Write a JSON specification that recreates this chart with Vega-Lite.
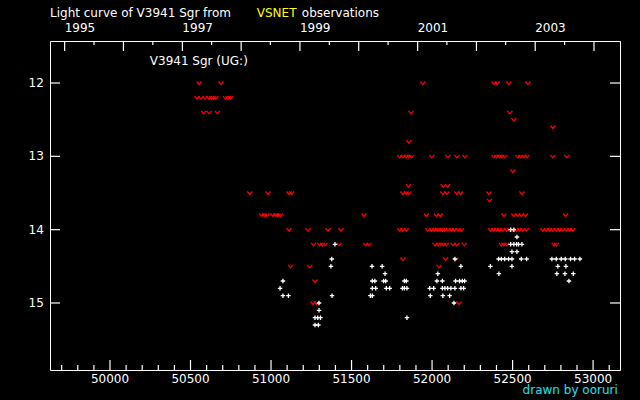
{
  "$schema": "https://vega.github.io/schema/vega-lite/v6.json",
  "description": "Light curve of V3941 Sgr from VSNET observations (JD-2400000 vs magnitude).",
  "width": 570,
  "height": 329,
  "autosize": "none",
  "padding": {"left": 50, "top": 41, "right": 20, "bottom": 30},
  "background": "black",
  "datasets": {
    "limits": [
      {"jd": 50553, "mag": 12.0}, {"jd": 50690, "mag": 12.0}, {"jd": 51943, "mag": 12.0}, {"jd": 52385, "mag": 12.0}, {"jd": 52404, "mag": 12.0}, {"jd": 52477, "mag": 12.0}, {"jd": 52595, "mag": 12.0},
      {"jd": 50541, "mag": 12.2}, {"jd": 50565, "mag": 12.2}, {"jd": 50590, "mag": 12.2}, {"jd": 50615, "mag": 12.2}, {"jd": 50630, "mag": 12.2}, {"jd": 50644, "mag": 12.2}, {"jd": 50657, "mag": 12.2}, {"jd": 50717, "mag": 12.2}, {"jd": 50733, "mag": 12.2}, {"jd": 50750, "mag": 12.2},
      {"jd": 50582, "mag": 12.4}, {"jd": 50615, "mag": 12.4}, {"jd": 50667, "mag": 12.4}, {"jd": 51869, "mag": 12.4}, {"jd": 52483, "mag": 12.4},
      {"jd": 52508, "mag": 12.5},
      {"jd": 52750, "mag": 12.6},
      {"jd": 51856, "mag": 12.8},
      {"jd": 51799, "mag": 13.0}, {"jd": 51819, "mag": 13.0}, {"jd": 51840, "mag": 13.0}, {"jd": 51856, "mag": 13.0}, {"jd": 51873, "mag": 13.0}, {"jd": 51999, "mag": 13.0}, {"jd": 52099, "mag": 13.0}, {"jd": 52154, "mag": 13.0}, {"jd": 52204, "mag": 13.0}, {"jd": 52385, "mag": 13.0}, {"jd": 52401, "mag": 13.0}, {"jd": 52419, "mag": 13.0}, {"jd": 52434, "mag": 13.0}, {"jd": 52451, "mag": 13.0}, {"jd": 52533, "mag": 13.0}, {"jd": 52550, "mag": 13.0}, {"jd": 52571, "mag": 13.0}, {"jd": 52589, "mag": 13.0}, {"jd": 52750, "mag": 13.0}, {"jd": 52837, "mag": 13.0},
      {"jd": 52502, "mag": 13.2},
      {"jd": 51853, "mag": 13.4}, {"jd": 52069, "mag": 13.4}, {"jd": 52097, "mag": 13.4},
      {"jd": 50868, "mag": 13.5}, {"jd": 50981, "mag": 13.5}, {"jd": 51112, "mag": 13.5}, {"jd": 51128, "mag": 13.5}, {"jd": 51819, "mag": 13.5}, {"jd": 51840, "mag": 13.5}, {"jd": 51856, "mag": 13.5}, {"jd": 52067, "mag": 13.5}, {"jd": 52092, "mag": 13.5}, {"jd": 52154, "mag": 13.5}, {"jd": 52176, "mag": 13.5}, {"jd": 52353, "mag": 13.5}, {"jd": 52558, "mag": 13.5},
      {"jd": 52357, "mag": 13.6},
      {"jd": 50942, "mag": 13.8}, {"jd": 50959, "mag": 13.8}, {"jd": 50975, "mag": 13.8}, {"jd": 51012, "mag": 13.8}, {"jd": 51029, "mag": 13.8}, {"jd": 51043, "mag": 13.8}, {"jd": 51058, "mag": 13.8}, {"jd": 51577, "mag": 13.8}, {"jd": 51964, "mag": 13.8}, {"jd": 52027, "mag": 13.8}, {"jd": 52051, "mag": 13.8}, {"jd": 52446, "mag": 13.8}, {"jd": 52508, "mag": 13.8}, {"jd": 52531, "mag": 13.8}, {"jd": 52554, "mag": 13.8}, {"jd": 52579, "mag": 13.8}, {"jd": 52829, "mag": 13.8},
      {"jd": 51112, "mag": 14.0}, {"jd": 51230, "mag": 14.0}, {"jd": 51354, "mag": 14.0}, {"jd": 51434, "mag": 14.0}, {"jd": 51799, "mag": 14.0}, {"jd": 51819, "mag": 14.0}, {"jd": 51840, "mag": 14.0}, {"jd": 51974, "mag": 14.0}, {"jd": 51996, "mag": 14.0}, {"jd": 52016, "mag": 14.0}, {"jd": 52033, "mag": 14.0}, {"jd": 52047, "mag": 14.0}, {"jd": 52064, "mag": 14.0}, {"jd": 52078, "mag": 14.0}, {"jd": 52099, "mag": 14.0}, {"jd": 52120, "mag": 14.0}, {"jd": 52140, "mag": 14.0}, {"jd": 52161, "mag": 14.0}, {"jd": 52182, "mag": 14.0}, {"jd": 52362, "mag": 14.0}, {"jd": 52382, "mag": 14.0}, {"jd": 52401, "mag": 14.0}, {"jd": 52419, "mag": 14.0}, {"jd": 52440, "mag": 14.0}, {"jd": 52461, "mag": 14.0}, {"jd": 52482, "mag": 14.0}, {"jd": 52502, "mag": 14.0}, {"jd": 52523, "mag": 14.0}, {"jd": 52544, "mag": 14.0}, {"jd": 52564, "mag": 14.0}, {"jd": 52585, "mag": 14.0}, {"jd": 52688, "mag": 14.0}, {"jd": 52709, "mag": 14.0}, {"jd": 52730, "mag": 14.0}, {"jd": 52750, "mag": 14.0}, {"jd": 52771, "mag": 14.0}, {"jd": 52792, "mag": 14.0}, {"jd": 52812, "mag": 14.0}, {"jd": 52833, "mag": 14.0}, {"jd": 52854, "mag": 14.0}, {"jd": 52874, "mag": 14.0},
      {"jd": 51265, "mag": 14.2}, {"jd": 51302, "mag": 14.2}, {"jd": 51319, "mag": 14.2}, {"jd": 51335, "mag": 14.2}, {"jd": 51422, "mag": 14.2}, {"jd": 51588, "mag": 14.2}, {"jd": 51608, "mag": 14.2}, {"jd": 52018, "mag": 14.2}, {"jd": 52039, "mag": 14.2}, {"jd": 52055, "mag": 14.2}, {"jd": 52072, "mag": 14.2}, {"jd": 52089, "mag": 14.2}, {"jd": 52130, "mag": 14.2}, {"jd": 52154, "mag": 14.2}, {"jd": 52200, "mag": 14.2}, {"jd": 52430, "mag": 14.2}, {"jd": 52446, "mag": 14.2}, {"jd": 52463, "mag": 14.2}, {"jd": 52758, "mag": 14.2}, {"jd": 52772, "mag": 14.2},
      {"jd": 51819, "mag": 14.4}, {"jd": 52084, "mag": 14.4}, {"jd": 52146, "mag": 14.4},
      {"jd": 51122, "mag": 14.5}, {"jd": 51241, "mag": 14.5}, {"jd": 52043, "mag": 14.5},
      {"jd": 51273, "mag": 14.7},
      {"jd": 51261, "mag": 15.0}, {"jd": 51282, "mag": 15.0}, {"jd": 52167, "mag": 15.0}
    ],
    "obs": [
      {"jd": 52488, "mag": 14.0}, {"jd": 52508, "mag": 14.0},
      {"jd": 52527, "mag": 14.1},
      {"jd": 51397, "mag": 14.2}, {"jd": 52488, "mag": 14.2}, {"jd": 52508, "mag": 14.2}, {"jd": 52525, "mag": 14.2}, {"jd": 52537, "mag": 14.2}, {"jd": 52558, "mag": 14.2},
      {"jd": 52496, "mag": 14.3}, {"jd": 52527, "mag": 14.3},
      {"jd": 51377, "mag": 14.4}, {"jd": 52142, "mag": 14.4}, {"jd": 52413, "mag": 14.4}, {"jd": 52430, "mag": 14.4}, {"jd": 52451, "mag": 14.4}, {"jd": 52475, "mag": 14.4}, {"jd": 52496, "mag": 14.4}, {"jd": 52554, "mag": 14.4}, {"jd": 52587, "mag": 14.4}, {"jd": 52744, "mag": 14.4}, {"jd": 52771, "mag": 14.4}, {"jd": 52802, "mag": 14.4}, {"jd": 52827, "mag": 14.4}, {"jd": 52860, "mag": 14.4}, {"jd": 52885, "mag": 14.4}, {"jd": 52918, "mag": 14.4},
      {"jd": 51372, "mag": 14.5}, {"jd": 51627, "mag": 14.5}, {"jd": 51690, "mag": 14.5}, {"jd": 52179, "mag": 14.5}, {"jd": 52362, "mag": 14.5}, {"jd": 52496, "mag": 14.5}, {"jd": 52781, "mag": 14.5}, {"jd": 52831, "mag": 14.5},
      {"jd": 51708, "mag": 14.6}, {"jd": 52036, "mag": 14.6}, {"jd": 52415, "mag": 14.6}, {"jd": 52775, "mag": 14.6}, {"jd": 52825, "mag": 14.6}, {"jd": 52877, "mag": 14.6},
      {"jd": 51074, "mag": 14.7}, {"jd": 51629, "mag": 14.7}, {"jd": 51645, "mag": 14.7}, {"jd": 51699, "mag": 14.7}, {"jd": 51712, "mag": 14.7}, {"jd": 51828, "mag": 14.7}, {"jd": 51840, "mag": 14.7}, {"jd": 52030, "mag": 14.7}, {"jd": 52064, "mag": 14.7}, {"jd": 52146, "mag": 14.7}, {"jd": 52171, "mag": 14.7}, {"jd": 52188, "mag": 14.7}, {"jd": 52202, "mag": 14.7}, {"jd": 52850, "mag": 14.7},
      {"jd": 51056, "mag": 14.8}, {"jd": 51629, "mag": 14.8}, {"jd": 51650, "mag": 14.8}, {"jd": 51716, "mag": 14.8}, {"jd": 51737, "mag": 14.8}, {"jd": 51816, "mag": 14.8}, {"jd": 51828, "mag": 14.8}, {"jd": 51844, "mag": 14.8}, {"jd": 51985, "mag": 14.8}, {"jd": 52010, "mag": 14.8}, {"jd": 52064, "mag": 14.8}, {"jd": 52080, "mag": 14.8}, {"jd": 52097, "mag": 14.8}, {"jd": 52117, "mag": 14.8}, {"jd": 52142, "mag": 14.8}, {"jd": 52179, "mag": 14.8}, {"jd": 52196, "mag": 14.8},
      {"jd": 51074, "mag": 14.9}, {"jd": 51108, "mag": 14.9}, {"jd": 51379, "mag": 14.9}, {"jd": 51617, "mag": 14.9}, {"jd": 51629, "mag": 14.9}, {"jd": 51989, "mag": 14.9}, {"jd": 52067, "mag": 14.9}, {"jd": 52109, "mag": 14.9},
      {"jd": 51298, "mag": 15.0}, {"jd": 52136, "mag": 15.0},
      {"jd": 51298, "mag": 15.1},
      {"jd": 51273, "mag": 15.2}, {"jd": 51290, "mag": 15.2}, {"jd": 51307, "mag": 15.2}, {"jd": 51844, "mag": 15.2},
      {"jd": 51273, "mag": 15.3}, {"jd": 51294, "mag": 15.3}
    ],
    "jdMajor": [
      {"jd": 50000}, {"jd": 50500}, {"jd": 51000}, {"jd": 51500}, {"jd": 52000}, {"jd": 52500}, {"jd": 53000}
    ],
    "jdMinor": [
      {"jd": 49700}, {"jd": 49800}, {"jd": 49900}, {"jd": 50100}, {"jd": 50200}, {"jd": 50300}, {"jd": 50400},
      {"jd": 50600}, {"jd": 50700}, {"jd": 50800}, {"jd": 50900}, {"jd": 51100}, {"jd": 51200}, {"jd": 51300}, {"jd": 51400},
      {"jd": 51600}, {"jd": 51700}, {"jd": 51800}, {"jd": 51900}, {"jd": 52100}, {"jd": 52200}, {"jd": 52300}, {"jd": 52400},
      {"jd": 52600}, {"jd": 52700}, {"jd": 52800}, {"jd": 52900}, {"jd": 53100}
    ],
    "yearMajor": [
      {"jd": 49718.5, "year": 1995}, {"jd": 50083.5, "year": 1996}, {"jd": 50449.5, "year": 1997}, {"jd": 50814.5, "year": 1998},
      {"jd": 51179.5, "year": 1999}, {"jd": 51544.5, "year": 2000}, {"jd": 51910.5, "year": 2001}, {"jd": 52275.5, "year": 2002},
      {"jd": 52640.5, "year": 2003}, {"jd": 53005.5, "year": 2004}
    ],
    "yearMinor": [
      {"jd": 49901}, {"jd": 50266}, {"jd": 50631}, {"jd": 50996}, {"jd": 51362}, {"jd": 51727}, {"jd": 52092}, {"jd": 52457}, {"jd": 52823}
    ],
    "magTicks": [
      {"mag": 12}, {"mag": 13}, {"mag": 14}, {"mag": 15}
    ],
    "header": [{"part": "Light curve of V3941 Sgr from"}],
    "source": [{"part": "VSNET"}],
    "tail": [{"part": "observations"}],
    "star": [{"part": "V3941 Sgr (UG:)"}],
    "credit": [{"part": "drawn by ooruri"}]
  },
  "layer": [
    {
      "data": {"name": "limits"},
      "mark": {"type": "point", "shape": "M-1,-0.6L0,0.6L1,-0.6", "filled": false, "stroke": "#ff0000", "strokeWidth": 1.3, "size": 25, "opacity": 1},
      "encoding": {
        "x": {"field": "jd", "type": "quantitative", "scale": {"domain": [49627.5, 53167], "nice": false, "zero": false}, "axis": null},
        "y": {"field": "mag", "type": "quantitative", "scale": {"domain": [11.427, 15.914], "reverse": true, "nice": false, "zero": false}, "axis": null}
      }
    },
    {
      "data": {"name": "obs"},
      "mark": {"type": "point", "shape": "M-1,0H1M0,-1V1", "filled": false, "stroke": "#ffffff", "strokeWidth": 1.3, "size": 20, "opacity": 1},
      "encoding": {
        "x": {"field": "jd", "type": "quantitative", "scale": {"domain": [49627.5, 53167], "nice": false, "zero": false}, "axis": null},
        "y": {"field": "mag", "type": "quantitative", "scale": {"domain": [11.427, 15.914], "reverse": true, "nice": false, "zero": false}, "axis": null}
      }
    },
    {
      "data": {"name": "jdMajor"},
      "mark": {"type": "tick", "orient": "vertical", "size": 10, "thickness": 1.2, "color": "#ffffff", "opacity": 1},
      "encoding": {
        "x": {"field": "jd", "type": "quantitative", "scale": {"domain": [49627.5, 53167], "nice": false, "zero": false}, "axis": null},
        "y": {"datum": 15.846, "type": "quantitative", "scale": {"domain": [11.427, 15.914], "reverse": true, "nice": false, "zero": false}, "axis": null}
      }
    },
    {
      "data": {"name": "jdMinor"},
      "mark": {"type": "tick", "orient": "vertical", "size": 5, "thickness": 1.2, "color": "#ffffff", "opacity": 1},
      "encoding": {
        "x": {"field": "jd", "type": "quantitative", "scale": {"domain": [49627.5, 53167], "nice": false, "zero": false}, "axis": null},
        "y": {"datum": 15.88, "type": "quantitative", "scale": {"domain": [11.427, 15.914], "reverse": true, "nice": false, "zero": false}, "axis": null}
      }
    },
    {
      "data": {"name": "yearMajor"},
      "mark": {"type": "tick", "orient": "vertical", "size": 10, "thickness": 1.2, "color": "#ffffff", "opacity": 1},
      "encoding": {
        "x": {"field": "jd", "type": "quantitative", "scale": {"domain": [49627.5, 53167], "nice": false, "zero": false}, "axis": null},
        "y": {"datum": 11.495, "type": "quantitative", "scale": {"domain": [11.427, 15.914], "reverse": true, "nice": false, "zero": false}, "axis": null}
      }
    },
    {
      "data": {"name": "yearMinor"},
      "mark": {"type": "tick", "orient": "vertical", "size": 4, "thickness": 1.2, "color": "#ffffff", "opacity": 1},
      "encoding": {
        "x": {"field": "jd", "type": "quantitative", "scale": {"domain": [49627.5, 53167], "nice": false, "zero": false}, "axis": null},
        "y": {"datum": 11.454, "type": "quantitative", "scale": {"domain": [11.427, 15.914], "reverse": true, "nice": false, "zero": false}, "axis": null}
      }
    },
    {
      "data": {"name": "magTicks"},
      "mark": {"type": "tick", "orient": "horizontal", "size": 10, "thickness": 1.2, "color": "#ffffff", "opacity": 1},
      "encoding": {
        "x": {"datum": 49658.5, "type": "quantitative", "scale": {"domain": [49627.5, 53167], "nice": false, "zero": false}, "axis": null},
        "y": {"field": "mag", "type": "quantitative", "scale": {"domain": [11.427, 15.914], "reverse": true, "nice": false, "zero": false}, "axis": null}
      }
    },
    {
      "data": {"name": "magTicks"},
      "mark": {"type": "tick", "orient": "horizontal", "size": 10, "thickness": 1.2, "color": "#ffffff", "opacity": 1},
      "encoding": {
        "x": {"datum": 53136, "type": "quantitative", "scale": {"domain": [49627.5, 53167], "nice": false, "zero": false}, "axis": null},
        "y": {"field": "mag", "type": "quantitative", "scale": {"domain": [11.427, 15.914], "reverse": true, "nice": false, "zero": false}, "axis": null}
      }
    },
    {
      "data": {"name": "jdMajor"},
      "mark": {"type": "text", "align": "center", "baseline": "top", "font": "DejaVu Sans", "fontSize": 12, "color": "#ffffff"},
      "encoding": {
        "x": {"field": "jd", "type": "quantitative", "scale": {"domain": [49627.5, 53167], "nice": false, "zero": false}, "axis": null},
        "y": {"datum": 15.969, "type": "quantitative", "scale": {"domain": [11.427, 15.914], "reverse": true, "nice": false, "zero": false}, "axis": null},
        "text": {"field": "jd", "type": "quantitative", "format": "d"}
      }
    },
    {
      "data": {"name": "magTicks"},
      "mark": {"type": "text", "align": "right", "baseline": "middle", "font": "DejaVu Sans", "fontSize": 12, "color": "#ffffff"},
      "encoding": {
        "x": {"datum": 49589, "type": "quantitative", "scale": {"domain": [49627.5, 53167], "nice": false, "zero": false}, "axis": null},
        "y": {"field": "mag", "type": "quantitative", "scale": {"domain": [11.427, 15.914], "reverse": true, "nice": false, "zero": false}, "axis": null},
        "text": {"field": "mag", "type": "quantitative", "format": "d"}
      }
    },
    {
      "data": {"name": "yearMajor"},
      "transform": [{"filter": "datum.year % 2 == 1"}],
      "mark": {"type": "text", "align": "left", "baseline": "alphabetic", "font": "DejaVu Sans", "fontSize": 12, "color": "#ffffff"},
      "encoding": {
        "x": {"field": "jd", "type": "quantitative", "scale": {"domain": [49627.5, 53167], "nice": false, "zero": false}, "axis": null},
        "y": {"datum": 11.308, "type": "quantitative", "scale": {"domain": [11.427, 15.914], "reverse": true, "nice": false, "zero": false}, "axis": null},
        "text": {"field": "year", "type": "nominal"}
      }
    },
    {
      "data": {"name": "header"},
      "mark": {"type": "text", "align": "left", "baseline": "alphabetic", "font": "DejaVu Sans", "fontSize": 12, "color": "#ffffff"},
      "encoding": {
        "x": {"datum": 49627.5, "type": "quantitative", "scale": {"domain": [49627.5, 53167], "nice": false, "zero": false}, "axis": null},
        "y": {"datum": 11.093, "type": "quantitative", "scale": {"domain": [11.427, 15.914], "reverse": true, "nice": false, "zero": false}, "axis": null},
        "text": {"field": "part", "type": "nominal"}
      }
    },
    {
      "data": {"name": "source"},
      "mark": {"type": "text", "align": "left", "baseline": "alphabetic", "font": "DejaVu Sans", "fontSize": 12, "color": "#ffff00"},
      "encoding": {
        "x": {"datum": 50911.6, "type": "quantitative", "scale": {"domain": [49627.5, 53167], "nice": false, "zero": false}, "axis": null},
        "y": {"datum": 11.093, "type": "quantitative", "scale": {"domain": [11.427, 15.914], "reverse": true, "nice": false, "zero": false}, "axis": null},
        "text": {"field": "part", "type": "nominal"}
      }
    },
    {
      "data": {"name": "tail"},
      "mark": {"type": "text", "align": "left", "baseline": "alphabetic", "font": "DejaVu Sans", "fontSize": 12, "color": "#ffffff"},
      "encoding": {
        "x": {"datum": 51191.1, "type": "quantitative", "scale": {"domain": [49627.5, 53167], "nice": false, "zero": false}, "axis": null},
        "y": {"datum": 11.093, "type": "quantitative", "scale": {"domain": [11.427, 15.914], "reverse": true, "nice": false, "zero": false}, "axis": null},
        "text": {"field": "part", "type": "nominal"}
      }
    },
    {
      "data": {"name": "star"},
      "mark": {"type": "text", "align": "left", "baseline": "alphabetic", "font": "DejaVu Sans", "fontSize": 12, "color": "#ffffff"},
      "encoding": {
        "x": {"datum": 50247.2, "type": "quantitative", "scale": {"domain": [49627.5, 53167], "nice": false, "zero": false}, "axis": null},
        "y": {"datum": 11.761, "type": "quantitative", "scale": {"domain": [11.427, 15.914], "reverse": true, "nice": false, "zero": false}, "axis": null},
        "text": {"field": "part", "type": "nominal"}
      }
    },
    {
      "data": {"name": "credit"},
      "mark": {"type": "text", "align": "right", "baseline": "alphabetic", "font": "DejaVu Sans", "fontSize": 12, "color": "#20e0f0"},
      "encoding": {
        "x": {"datum": 53153.3, "type": "quantitative", "scale": {"domain": [49627.5, 53167], "nice": false, "zero": false}, "axis": null},
        "y": {"datum": 16.2415, "type": "quantitative", "scale": {"domain": [11.427, 15.914], "reverse": true, "nice": false, "zero": false}, "axis": null},
        "text": {"field": "part", "type": "nominal"}
      }
    }
  ],
  "config": {
    "view": {"stroke": "#ffffff", "strokeWidth": 1}
  }
}
